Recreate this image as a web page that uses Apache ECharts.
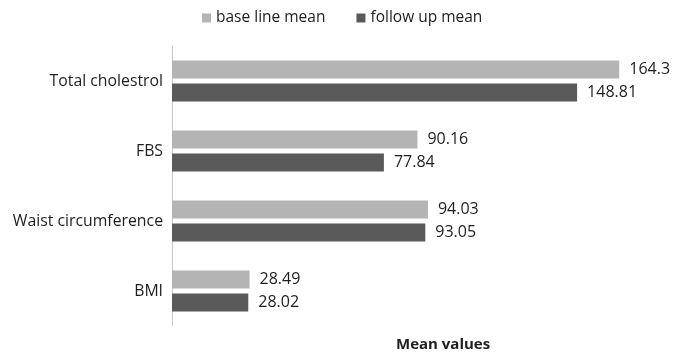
<!DOCTYPE html>
<html>
<head>
<meta charset="utf-8">
<script src="https://cdn.jsdelivr.net/npm/echarts@6/dist/echarts.min.js"></script>
<style>
  html, body { margin: 0; padding: 0; background: #fff; }
  #chart { width: 686px; height: 354px; }
</style>
</head>
<body>
<div id="chart"></div>
<script>
// Measures, listed bottom to top on the category axis
const categories = ['BMI', 'Waist circumference', 'FBS', 'Total cholestrol'];
const baselineMean = [28.49, 94.03, 90.16, 164.3];
const followUpMean = [28.02, 93.05, 77.84, 148.81];
const seriesNames = ['base line mean', 'follow up mean'];

const FONT = '"Open Sans", "Liberation Sans", sans-serif';
const TEXT = '#1e1e1e';

const chart = echarts.init(document.getElementById('chart'), null, { renderer: 'canvas' });

const valueLabel = {
  show: true,
  position: 'right',
  distance: 10,
  color: TEXT,
  fontFamily: FONT,
  fontSize: 16
};

chart.setOption({
  animation: false,
  backgroundColor: '#ffffff',
  legend: {
    data: seriesNames,
    top: 5,
    left: 197,
    itemWidth: 9,
    itemHeight: 9,
    itemGap: 31,
    icon: 'rect',
    textStyle: { color: TEXT, fontFamily: FONT, fontSize: 15.5 }
  },
  title: {
    text: 'Mean values',
    left: 391,
    top: 332,
    textStyle: { color: TEXT, fontFamily: FONT, fontSize: 15, fontWeight: 'bold' }
  },
  grid: { left: 172, right: 24, top: 46, bottom: 28, containLabel: false },
  xAxis: {
    type: 'value',
    min: 0,
    max: 180,
    axisLine: { show: false },
    axisTick: { show: false },
    axisLabel: { show: false },
    splitLine: { show: false }
  },
  yAxis: {
    type: 'category',
    data: categories,
    axisLine: { show: true, lineStyle: { color: '#c8c8c8', width: 1 } },
    axisTick: { show: false },
    axisLabel: { color: TEXT, fontFamily: FONT, fontSize: 15.8, margin: 9 }
  },
  series: [
    {
      name: seriesNames[0],
      type: 'bar',
      data: baselineMean,
      barWidth: 18,
      barGap: '28%',
      itemStyle: { color: '#b4b4b4' },
      label: valueLabel
    },
    {
      name: seriesNames[1],
      type: 'bar',
      data: followUpMean,
      barWidth: 18,
      itemStyle: { color: '#5a5a5a' },
      label: valueLabel
    }
  ]
});
</script>
</body>
</html>
